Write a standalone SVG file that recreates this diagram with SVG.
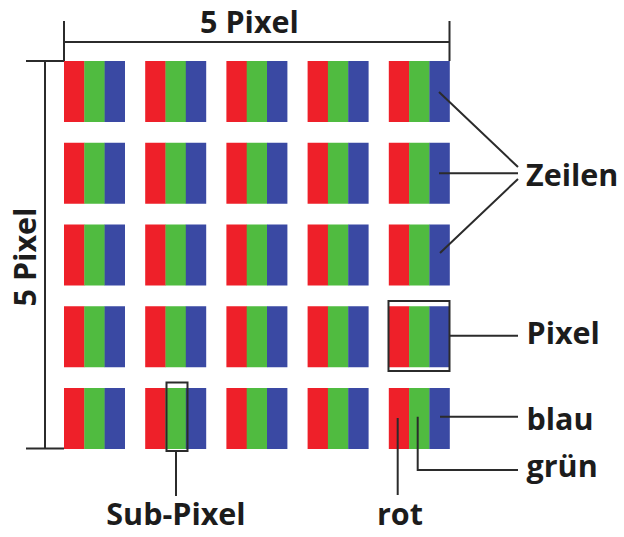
<svg xmlns="http://www.w3.org/2000/svg" xmlns:xlink="http://www.w3.org/1999/xlink" width="624" height="537" viewBox="0 0 624 537">
<style>
.r{fill:#ee2029}.g{fill:#50bb40}.b{fill:#3a49a3}
.ln{stroke:#2b2b2b;stroke-width:2;fill:none}
.box{stroke:#2b2b2b;stroke-width:2;fill:none}
.t{font-family:"Open Sans","Liberation Sans",sans-serif;font-weight:700;font-size:30.5px;fill:#1c1c1c}
</style>
<defs>
<g id="px">
<rect class="r" x="0" y="0" width="20.6" height="61"/>
<rect class="g" x="20.3" y="0" width="20.6" height="61"/>
<rect class="b" x="40.6" y="0" width="20.4" height="61"/>
</g>
</defs>
<rect width="624" height="537" fill="#fff"/>
<g id="pixels">
<g id="p11"><use xlink:href="#px" x="64" y="61"/></g>
<g id="p12"><use xlink:href="#px" x="145.2" y="61"/></g>
<g id="p13"><use xlink:href="#px" x="226.4" y="61"/></g>
<g id="p14"><use xlink:href="#px" x="307.6" y="61"/></g>
<g id="p15"><use xlink:href="#px" x="388.8" y="61"/></g>
<g id="p21"><use xlink:href="#px" x="64" y="142.75"/></g>
<g id="p22"><use xlink:href="#px" x="145.2" y="142.75"/></g>
<g id="p23"><use xlink:href="#px" x="226.4" y="142.75"/></g>
<g id="p24"><use xlink:href="#px" x="307.6" y="142.75"/></g>
<g id="p25"><use xlink:href="#px" x="388.8" y="142.75"/></g>
<g id="p31"><use xlink:href="#px" x="64" y="224.5"/></g>
<g id="p32"><use xlink:href="#px" x="145.2" y="224.5"/></g>
<g id="p33"><use xlink:href="#px" x="226.4" y="224.5"/></g>
<g id="p34"><use xlink:href="#px" x="307.6" y="224.5"/></g>
<g id="p35"><use xlink:href="#px" x="388.8" y="224.5"/></g>
<g id="p41"><use xlink:href="#px" x="64" y="306.25"/></g>
<g id="p42"><use xlink:href="#px" x="145.2" y="306.25"/></g>
<g id="p43"><use xlink:href="#px" x="226.4" y="306.25"/></g>
<g id="p44"><use xlink:href="#px" x="307.6" y="306.25"/></g>
<g id="p45"><use xlink:href="#px" x="388.8" y="306.25"/></g>
<g id="p51"><use xlink:href="#px" x="64" y="388"/></g>
<g id="p52"><use xlink:href="#px" x="145.2" y="388"/></g>
<g id="p53"><use xlink:href="#px" x="226.4" y="388"/></g>
<g id="p54"><use xlink:href="#px" x="307.6" y="388"/></g>
<g id="p55"><use xlink:href="#px" x="388.8" y="388"/></g>
</g>
<g id="highlights">
<rect id="pixel-box" class="box" x="388.5" y="301" width="61" height="70"/>
<rect id="subpixel-box" class="box" x="166.5" y="382.5" width="21" height="68.5"/>
</g>
<g id="connectors">
<path class="ln" d="M64 21V61M449.5 21V61M64 42H449.5"/>
<path class="ln" d="M26 61H64M26 448.5H64M45 61V448.5"/>
<path class="ln" d="M439 92L518 167M439 173.3H518M440 253L518 179"/>
<path class="ln" d="M449.5 335.7H518"/>
<path class="ln" d="M440 416.7H518"/>
<path class="ln" d="M417.7 416.7V470H518"/>
<path class="ln" d="M397.7 418V495"/>
<path class="ln" d="M176 451V496"/>
</g>
<g id="labels">
<text class="t" x="249.5" y="33" text-anchor="middle">5 Pixel</text>
<text class="t" transform="translate(36 257) rotate(-90)" text-anchor="middle">5 Pixel</text>
<text class="t" x="526" y="186">Zeilen</text>
<text class="t" x="526.5" y="344">Pixel</text>
<text class="t" x="526.5" y="430">blau</text>
<text class="t" x="526.5" y="477">grün</text>
<text class="t" x="400" y="525" text-anchor="middle">rot</text>
<text class="t" x="176" y="525" text-anchor="middle">Sub-Pixel</text>
</g>
</svg>
